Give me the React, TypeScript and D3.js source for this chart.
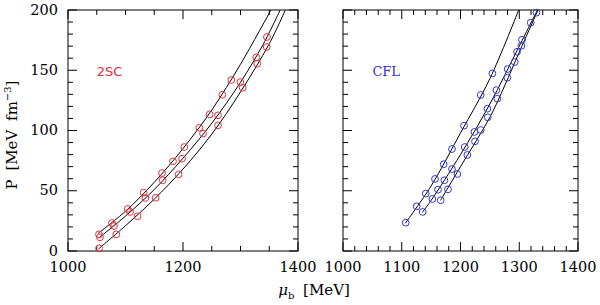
import * as d3 from 'd3';

type Pt = [number, number];

// 2SC: lattice points (markers) and fitted curves
const sc2PointsA: Pt[] = [[1053.9, 13.8], [1076.5, 23.2], [1103.8, 34.9], [1131.6, 48.4], [1163.5, 64.7], [1182.6, 74.4], [1202.3, 86.3], [1228.4, 102.3], [1246.4, 113.4], [1268.4, 129.7], [1284, 141.9]];
const sc2PointsB: Pt[] = [[1055.6, 11.4], [1080, 20.7], [1107.8, 32.4], [1134.5, 44], [1164.7, 58.7], [1198.3, 76.6], [1234.8, 97.4], [1260.9, 112.6], [1299.7, 140.2], [1327.5, 160.7], [1346, 177.6]];
const sc2PointsC: Pt[] = [[1054, 2.2], [1084, 13.8], [1121, 28.8], [1152.5, 44.2], [1192.5, 63.6], [1260.9, 104.3], [1303.8, 135.5], [1329.2, 155.4], [1345.6, 169.3]];
const sc2CurveA: Pt[] = [[1052, 14.5], [1100, 33], [1150, 57], [1200, 85], [1250, 117], [1300, 155], [1353, 200]];
const sc2CurveB: Pt[] = [[1054, 11], [1100, 29], [1150, 51], [1200, 77], [1250, 106], [1300, 140], [1340, 172], [1369, 200]];
const sc2CurveC: Pt[] = [[1053, 1.7], [1100, 21], [1150, 43], [1200, 68], [1250, 97], [1300, 132], [1350, 172], [1378, 200]];

// CFL
const cflPointsA: Pt[] = [[1106.7, 23.5], [1125.4, 37.1], [1140.8, 47.6], [1156.6, 59.8], [1171.4, 72], [1185.5, 84.6], [1206, 104], [1234.4, 129.5], [1254.3, 147.4]];
const cflPointsB: Pt[] = [[1135.7, 32.4], [1152.1, 43.2], [1161.8, 50.9], [1172.6, 58.7], [1185.5, 68], [1207.2, 86.3], [1223.6, 98.8], [1245.8, 118.1], [1261.1, 133.5], [1280.3, 151], [1296.2, 165.3], [1304.7, 175.3], [1319.5, 189.5], [1329.2, 197.8]];
const cflPointsC: Pt[] = [[1166.3, 42.1], [1178.7, 51.2], [1194.7, 63.9], [1211.7, 79.7], [1224.7, 91], [1234.4, 100.4], [1246.3, 110.9], [1262.8, 126.4], [1279.8, 143.8], [1292.3, 156.8], [1303.6, 170.3]];
const cflCurveA: Pt[] = [[1106, 23], [1150, 54], [1200, 98], [1250, 143], [1299, 200]];
const cflCurveB: Pt[] = [[1135, 32], [1150, 42], [1200, 80], [1250, 122], [1300, 170], [1331, 200]];
const cflCurveC: Pt[] = [[1166, 42], [1200, 70], [1250, 111], [1275, 137], [1300, 165], [1332, 200]];

const yTickLabels = [0, 50, 100, 150, 200];
const leftXTickLabels = [1000, 1200, 1400];
const rightXTickLabels = [1000, 1100, 1200, 1300, 1400];

const RED = '#e0303a';
const BLUE = '#3434d0';
const FONT = '"DejaVu Serif", serif';

const TOP = 10;
const BOTTOM = 251;

type PanelProps = {
    x0: number;
    x1: number;
    points: Pt[][];
    curves: Pt[][];
    color: string;
    label: string;
    labelFont: string;
    xLabels: number[];
    xMinor: number;
    showY: boolean;
};

const Panel = ({ x0, x1, points, curves, color, label, labelFont, xLabels, xMinor, showY }: PanelProps) => {
    const xScale = d3.scaleLinear().domain([1000, 1400]).range([x0, x1]);
    const yScale = d3.scaleLinear().domain([0, 200]).range([BOTTOM, TOP]);

    const line = d3.line<Pt>()
        .x(d => xScale(d[0]))
        .y(d => yScale(d[1]))
        .curve(d3.curveCatmullRom);

    const xMinorTicks = d3.range(1000, 1400.1, xMinor);
    const yMinorTicks = d3.range(0, 200.1, 10);

    return (
        <g>
            <defs>
                <clipPath id={`clip-${label}`}>
                    <rect x={x0} y={TOP} width={x1 - x0} height={BOTTOM - TOP} />
                </clipPath>
            </defs>
            {/* ticks on all four sides */}
            {xMinorTicks.map(t => {
                const major = xLabels.includes(Math.round(t));
                const len = major ? 9 : 5;
                return (
                    <g key={'x' + t} stroke="#000" strokeWidth={1}>
                        <line x1={xScale(t)} x2={xScale(t)} y1={BOTTOM} y2={BOTTOM - len} />
                        <line x1={xScale(t)} x2={xScale(t)} y1={TOP} y2={TOP + len} />
                    </g>
                );
            })}
            {yMinorTicks.map(t => {
                const major = t % 50 === 0;
                const len = major ? 9 : 5;
                return (
                    <g key={'y' + t} stroke="#000" strokeWidth={1}>
                        <line x1={x0} x2={x0 + len} y1={yScale(t)} y2={yScale(t)} />
                        <line x1={x1} x2={x1 - len} y1={yScale(t)} y2={yScale(t)} />
                    </g>
                );
            })}
            <rect x={x0} y={TOP} width={x1 - x0} height={BOTTOM - TOP} fill="none" stroke="#000" strokeWidth={1} />

            <g clipPath={`url(#clip-${label})`}>
                {curves.map((c, i) => (
                    <path key={i} d={line(c) || ''} fill="none" stroke="#000" strokeWidth={1} />
                ))}
            </g>
            {points.flat().map((p, i) => (
                <circle key={i} cx={xScale(p[0])} cy={yScale(p[1])} r={3.4} fill="none" stroke={color} strokeWidth={1} />
            ))}

            {xLabels.map(t => (
                <text key={'xl' + t} x={xScale(t)} y={272} textAnchor="middle" fontFamily={FONT} fontSize={14.5}>{t}</text>
            ))}
            {showY && yTickLabels.map(t => (
                <text key={'yl' + t} x={x0 - 10} y={yScale(t) + 4.5} textAnchor="end" fontFamily={FONT} fontSize={14.5}>{t}</text>
            ))}
            <text x={xScale(1050)} y={76} fill={color} fontFamily={labelFont} fontSize={13}>{label}</text>
        </g>
    );
};

export default function App() {
    return (
        <svg width={600} height={305} style={{ position: 'absolute', left: 0, top: 0, background: '#fff' }}>
            <rect width={600} height={305} fill="#fff" />
            <Panel x0={68} x1={298} points={[sc2PointsA, sc2PointsB, sc2PointsC]} curves={[sc2CurveA, sc2CurveB, sc2CurveC]}
                color={RED} label="2SC" labelFont='"DejaVu Sans", sans-serif' xLabels={leftXTickLabels} xMinor={50} showY={true} />
            <Panel x0={343} x1={578} points={[cflPointsA, cflPointsB, cflPointsC]} curves={[cflCurveA, cflCurveB, cflCurveC]}
                color={BLUE} label="CFL" labelFont={FONT} xLabels={rightXTickLabels} xMinor={20} showY={false} />
            <text transform="translate(17,135) rotate(-90)" textAnchor="middle" fontFamily={FONT} fontSize={15} wordSpacing={4}>
                P [MeV fm<tspan dy={-6} fontSize={10}>−3</tspan><tspan dy={6}>]</tspan>
            </text>
            <text x={314} y={295} textAnchor="middle" fontFamily={FONT} fontSize={15} wordSpacing={4}>
                <tspan fontStyle="italic">μ</tspan><tspan dy={4} fontSize={10}>b</tspan><tspan dy={-4}> [MeV]</tspan>
            </text>
        </svg>
    );
}
